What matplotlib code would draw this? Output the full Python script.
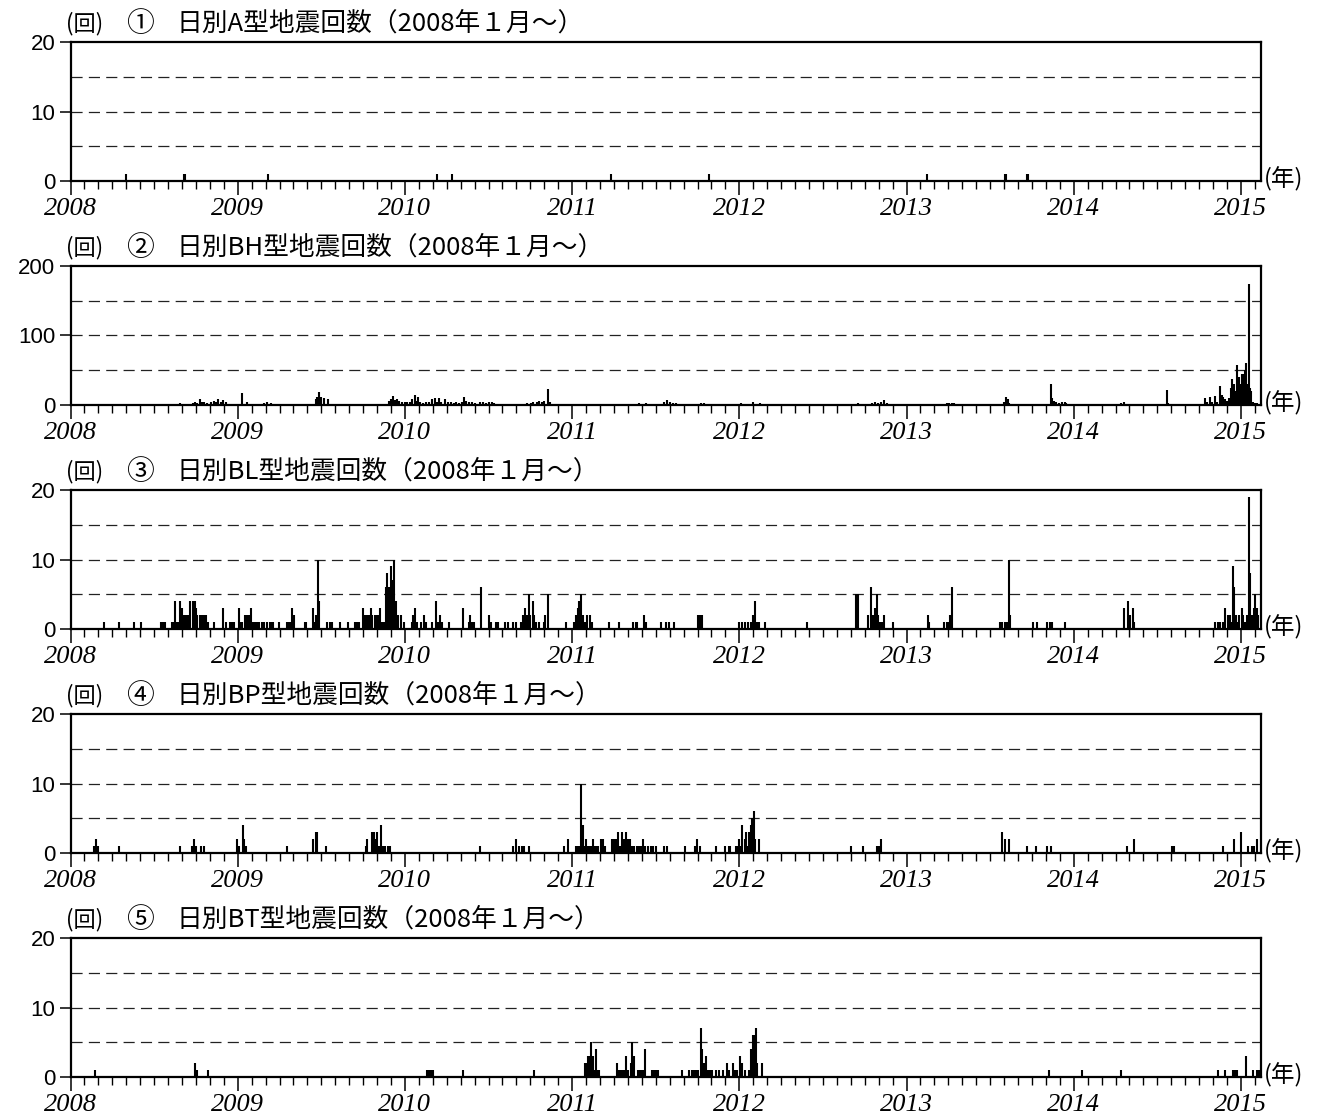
import matplotlib
matplotlib.use('Agg')
import matplotlib.pyplot as plt
import numpy as np

plt.rcParams['font.family'] = ['Noto Sans CJK JP', 'DejaVu Sans']
plt.rcParams['lines.scale_dashes'] = False

# ① A型 (日別回数)
a_year = [2008.33, 2008.678, 2008.684, 2009.18, 2010.19, 2010.28, 2011.23, 2011.82,
          2013.12, 2013.588, 2013.594, 2013.718, 2013.724]
a_count = [1, 1, 1, 1, 1, 1, 1, 1, 1, 1, 1, 1, 1]

# ② BH型
bh_year = [2008.657, 2008.720, 2008.731, 2008.743, 2008.755, 2008.773, 2008.787, 2008.801,
           2008.815, 2008.829, 2008.843, 2008.860, 2008.871, 2008.883, 2008.900, 2008.914,
           2008.930, 2009.028, 2009.054, 2009.157, 2009.175, 2009.199, 2009.264,
           2009.467, 2009.474, 2009.484, 2009.498, 2009.516, 2009.540,
           2009.904, 2009.914, 2009.928, 2009.939, 2009.951, 2009.965, 2009.981, 2009.998,
           2010.012, 2010.028, 2010.044, 2010.058, 2010.068, 2010.077, 2010.091, 2010.110,
           2010.128, 2010.145, 2010.161, 2010.180, 2010.194, 2010.203, 2010.217, 2010.238,
           2010.255, 2010.273, 2010.292, 2010.308, 2010.325, 2010.339, 2010.355, 2010.367,
           2010.386, 2010.402, 2010.418, 2010.449, 2010.465, 2010.484, 2010.500, 2010.519,
           2010.535, 2010.554, 2010.572,
           2010.701, 2010.729, 2010.752, 2010.769, 2010.787, 2010.804, 2010.822, 2010.834,
           2010.857, 2010.869, 2010.881,
           2011.044, 2011.058, 2011.367, 2011.400, 2011.418, 2011.442,
           2011.550, 2011.566, 2011.585, 2011.602, 2011.621, 2011.632,
           2011.751, 2011.770, 2011.787, 2011.798,
           2012.012, 2012.031, 2012.083, 2012.107, 2012.126,
           2012.711, 2012.771, 2012.794, 2012.813, 2012.830, 2012.847, 2012.866, 2012.885, 2012.925,
           2013.245, 2013.257, 2013.269, 2013.281,
           2013.584, 2013.594, 2013.605, 2013.615,
           2013.862, 2013.871, 2013.880, 2013.892, 2013.909, 2013.928, 2013.945, 2013.956,
           2014.284, 2014.300, 2014.556, 2014.566,
           2014.786, 2014.798, 2014.815, 2014.829, 2014.846, 2014.858, 2014.876, 2014.886,
           2014.895, 2014.905, 2014.917, 2014.929, 2014.938, 2014.948, 2014.957, 2014.967,
           2014.976, 2014.983, 2014.990, 2014.998, 2015.005, 2015.012, 2015.019, 2015.026,
           2015.033, 2015.040, 2015.047, 2015.054, 2015.062, 2015.071, 2015.083, 2015.095]
bh_count = [3, 2, 3, 4, 3, 8, 5, 5,
            3, 2, 4, 6, 4, 8, 5, 7,
            5, 17, 5, 3, 4, 3, 2,
            8, 12, 18, 12, 10, 8,
            6, 8, 13, 7, 8, 6, 5, 4,
            5, 4, 8, 14, 6, 12, 5, 3,
            4, 5, 8, 10, 4, 10, 5, 9,
            4, 5, 3, 4, 3, 5, 12, 6,
            4, 5, 3, 4, 5, 3, 5, 4,
            3, 2, 2,
            2, 3, 3, 4, 5, 6, 4, 6,
            23, 5, 2,
            2, 2, 2, 3, 2, 3,
            4, 7, 4, 3, 3, 2,
            2, 3, 3, 2,
            3, 2, 5, 2, 3,
            3, 2, 3, 4, 3, 5, 7, 3, 2,
            3, 3, 3, 3,
            5, 11, 8, 3,
            30, 10, 6, 4, 3, 4, 5, 3,
            3, 5, 21, 3,
            10, 4, 11, 5, 13, 4, 28, 15,
            12, 8, 6, 10, 25, 38, 30, 20,
            57, 35, 40, 30, 45, 45, 40, 50,
            60, 30, 174, 25, 20, 5, 3, 3]

# ③ BL型
bl_year = [2008.199, 2008.292, 2008.381, 2008.423, 2008.540, 2008.551, 2008.563, 2008.607,
           2008.619, 2008.626, 2008.638, 2008.645, 2008.654, 2008.666, 2008.680, 2008.689,
           2008.699, 2008.708, 2008.717, 2008.731, 2008.743, 2008.750, 2008.759, 2008.773,
           2008.785, 2008.797, 2008.813, 2008.820, 2008.860, 2008.914, 2008.930, 2008.956,
           2008.967, 2008.977, 2009.007, 2009.016, 2009.026, 2009.042, 2009.051, 2009.061,
           2009.070, 2009.082, 2009.089, 2009.105, 2009.117, 2009.129, 2009.145, 2009.159,
           2009.175, 2009.192, 2009.201, 2009.210, 2009.245, 2009.292, 2009.304, 2009.315,
           2009.327, 2009.334, 2009.402, 2009.411, 2009.451, 2009.460, 2009.470, 2009.479,
           2009.488, 2009.537, 2009.549, 2009.561, 2009.610, 2009.657, 2009.701, 2009.713,
           2009.727, 2009.750, 2009.759, 2009.771, 2009.783, 2009.799, 2009.806, 2009.822,
           2009.834, 2009.848, 2009.853, 2009.864, 2009.876, 2009.888, 2009.895, 2009.907,
           2009.916, 2009.923, 2009.930, 2009.937, 2009.946, 2009.951, 2009.960, 2009.977,
           2009.993, 2010.040, 2010.051, 2010.063, 2010.075, 2010.098, 2010.114, 2010.124,
           2010.161, 2010.185, 2010.199, 2010.208, 2010.222, 2010.266, 2010.348, 2010.383,
           2010.390, 2010.402, 2010.414, 2010.456, 2010.502, 2010.514, 2010.542, 2010.554,
           2010.600, 2010.617, 2010.647, 2010.666, 2010.694, 2010.706, 2010.717, 2010.729,
           2010.741, 2010.748, 2010.764, 2010.771, 2010.783, 2010.799, 2010.829, 2010.839,
           2010.853, 2010.963, 2011.009, 2011.021, 2011.033, 2011.044, 2011.051, 2011.063,
           2011.075, 2011.091, 2011.105, 2011.121, 2011.220, 2011.278, 2011.367, 2011.383,
           2011.390, 2011.430, 2011.442, 2011.530, 2011.561, 2011.582, 2011.609,
           2011.751, 2011.765, 2011.779, 2012.000, 2012.017, 2012.036, 2012.052, 2012.071,
           2012.083, 2012.095, 2012.107, 2012.119, 2012.154, 2012.403, 2012.700, 2012.711,
           2012.771, 2012.787, 2012.799, 2012.813, 2012.825, 2012.832, 2012.842, 2012.854,
           2012.866, 2012.918, 2013.126, 2013.136, 2013.226, 2013.240, 2013.252, 2013.262,
           2013.273, 2013.558, 2013.572, 2013.586, 2013.598, 2013.610, 2013.620, 2013.755,
           2013.779, 2013.838, 2013.857, 2013.873, 2013.945, 2014.300, 2014.324, 2014.336,
           2014.352, 2014.360, 2014.846, 2014.862, 2014.876, 2014.893, 2014.905, 2014.922,
           2014.933, 2014.945, 2014.952, 2014.959, 2014.971, 2014.981, 2014.990, 2015.005,
           2015.014, 2015.024, 2015.035, 2015.047, 2015.057, 2015.066, 2015.076, 2015.085,
           2015.095, 2015.104]
bl_count = [1, 1, 1, 1, 1, 1, 1, 1,
            1, 4, 1, 1, 4, 3, 2, 2,
            2, 2, 4, 4, 4, 3, 2, 2,
            2, 2, 2, 1, 1, 3, 1, 1,
            1, 1, 3, 1, 1, 2, 2, 2,
            2, 3, 1, 1, 1, 1, 1, 1,
            1, 1, 1, 1, 1, 1, 1, 1,
            3, 2, 1, 1, 3, 1, 2, 10,
            4, 1, 1, 1, 1, 1, 1, 1,
            1, 3, 2, 2, 2, 3, 2, 2,
            2, 2, 3, 1, 1, 6, 8, 6,
            9, 4, 7, 10, 4, 2, 2, 2,
            1, 1, 2, 3, 1, 1, 2, 1,
            1, 4, 1, 2, 1, 1, 3, 1,
            2, 1, 1, 6, 2, 1, 1, 1,
            1, 1, 1, 1, 1, 2, 3, 2,
            5, 2, 4, 2, 1, 1, 1, 2,
            5, 1, 1, 2, 3, 4, 5, 2,
            1, 2, 2, 1, 1, 1, 1, 1,
            1, 2, 1, 1, 1, 1, 1,
            2, 2, 2, 1, 1, 1, 1, 1,
            2, 4, 1, 1, 1, 1, 5, 5,
            2, 6, 2, 3, 5, 2, 1, 1,
            2, 1, 2, 1, 1, 1, 1, 2,
            6, 1, 1, 1, 1, 10, 2, 1,
            1, 1, 1, 1, 1, 3, 4, 2,
            3, 1, 1, 1, 1, 1, 3, 2,
            2, 1, 9, 6, 2, 1, 2, 3,
            2, 1, 2, 19, 8, 2, 3, 5,
            3, 2]

# ④ BP型
bp_year = [2008.143, 2008.154, 2008.166, 2008.292, 2008.657, 2008.727, 2008.741, 2008.750,
           2008.783, 2008.797, 2008.993, 2009.007, 2009.030, 2009.040, 2009.049, 2009.292,
           2009.451, 2009.467, 2009.474, 2009.526, 2009.766, 2009.776, 2009.801, 2009.813,
           2009.825, 2009.834, 2009.846, 2009.857, 2009.867, 2009.881, 2009.900, 2009.911,
           2010.449, 2010.647, 2010.666, 2010.682, 2010.699, 2010.710, 2010.745, 2010.951,
           2010.974, 2011.026, 2011.037, 2011.047, 2011.056, 2011.063, 2011.072, 2011.084,
           2011.096, 2011.105, 2011.114, 2011.126, 2011.138, 2011.147, 2011.157, 2011.173,
           2011.185, 2011.196, 2011.238, 2011.248, 2011.255, 2011.264, 2011.273, 2011.283,
           2011.292, 2011.301, 2011.313, 2011.322, 2011.336, 2011.348, 2011.360, 2011.371,
           2011.390, 2011.402, 2011.411, 2011.425, 2011.435, 2011.453, 2011.470, 2011.484,
           2011.500, 2011.550, 2011.570, 2011.673, 2011.734, 2011.749, 2011.763, 2011.858,
           2011.912, 2011.936, 2011.945, 2011.981, 2011.991, 2012.000, 2012.009, 2012.019,
           2012.031, 2012.040, 2012.050, 2012.059, 2012.071, 2012.078, 2012.088, 2012.095,
           2012.119, 2012.669, 2012.742, 2012.823, 2012.832, 2012.842, 2012.849, 2013.570,
           2013.589, 2013.613, 2013.719, 2013.774, 2013.843, 2013.862, 2014.319, 2014.360,
           2014.585, 2014.597, 2014.893, 2014.957, 2015.000, 2015.040, 2015.064, 2015.078,
           2015.099]
bp_count = [1, 2, 1, 1, 1, 1, 2, 1,
            1, 1, 2, 1, 4, 2, 1, 1,
            2, 3, 3, 1, 1, 2, 3, 3,
            2, 3, 1, 4, 1, 1, 1, 1,
            1, 1, 2, 1, 1, 1, 1, 1,
            2, 1, 1, 1, 10, 4, 1, 2,
            1, 1, 1, 2, 1, 1, 1, 2,
            2, 1, 2, 2, 2, 2, 3, 1,
            1, 3, 2, 3, 2, 2, 1, 1,
            1, 1, 1, 2, 1, 1, 1, 1,
            1, 1, 1, 1, 1, 2, 1, 1,
            1, 1, 1, 1, 1, 2, 1, 4,
            2, 3, 1, 3, 4, 5, 6, 2,
            2, 1, 1, 1, 1, 1, 2, 3,
            2, 2, 1, 1, 1, 1, 1, 2,
            1, 1, 1, 2, 3, 1, 1, 1,
            2]

# ⑤ BT型
bt_year = [2008.147, 2008.743, 2008.755, 2008.820, 2010.133, 2010.145, 2010.157, 2010.168,
           2010.350, 2010.771, 2011.075, 2011.084, 2011.096, 2011.105, 2011.114, 2011.124,
           2011.133, 2011.145, 2011.152, 2011.161, 2011.266, 2011.278, 2011.290, 2011.301,
           2011.313, 2011.325, 2011.336, 2011.353, 2011.360, 2011.371, 2011.395, 2011.407,
           2011.418, 2011.430, 2011.437, 2011.477, 2011.488, 2011.500, 2011.512, 2011.656,
           2011.699, 2011.715, 2011.727, 2011.739, 2011.751, 2011.768, 2011.775, 2011.787,
           2011.798, 2011.810, 2011.827, 2011.839, 2011.858, 2011.881, 2011.900, 2011.929,
           2011.941, 2011.960, 2011.976, 2011.988, 2012.005, 2012.017, 2012.031, 2012.055,
           2012.071, 2012.083, 2012.090, 2012.100, 2012.107, 2012.135, 2013.854, 2014.051,
           2014.281, 2014.865, 2014.905, 2014.952, 2014.964, 2014.976, 2015.033, 2015.071,
           2015.095, 2015.107]
bt_count = [1, 2, 1, 1, 1, 1, 1, 1,
            1, 1, 2, 2, 3, 3, 5, 3,
            1, 4, 1, 1, 2, 1, 1, 1,
            1, 3, 1, 2, 5, 3, 1, 1,
            1, 1, 4, 1, 1, 1, 1, 1,
            1, 1, 1, 1, 1, 7, 4, 2,
            3, 1, 1, 1, 1, 1, 1, 2,
            1, 2, 1, 1, 3, 2, 1, 1,
            4, 6, 6, 7, 2, 2, 1, 1,
            1, 1, 1, 1, 1, 1, 3, 1,
            1, 1]

panel_marks = ['①', '②', '③', '④', '⑤']
panel_titles = ['日別A型地震回数（2008年１月～）', '日別BH型地震回数（2008年１月～）',
                '日別BL型地震回数（2008年１月～）', '日別BP型地震回数（2008年１月～）',
                '日別BT型地震回数（2008年１月～）']
panel_ymax = [20, 200, 20, 20, 20]
year_ticks = [2008, 2009, 2010, 2011, 2012, 2013, 2014, 2015]

W, H = 1320, 1115
fig = plt.figure(figsize=(W / 100, H / 100), dpi=100)

series = [(a_year, a_count), (bh_year, bh_count), (bl_year, bl_count),
          (bp_year, bp_count), (bt_year, bt_count)]

for i, (yrs, cnt) in enumerate(series):
    top = 42 + 224 * i
    ax = fig.add_axes([70.5 / W, 1 - (top + 139) / H, 1190.5 / W, 139 / H])
    ymax = panel_ymax[i]

    # 破線の補助線
    for q in (0.25, 0.5, 0.75):
        ax.axhline(ymax * q, color='#222222', lw=0.9, ls=(0, (8, 4.5)), zorder=1)

    ax.vlines(yrs, 0, cnt, color='black', lw=1.5, zorder=2)

    ax.set_xlim(2008, 2015.12)
    ax.set_ylim(0, ymax)

    ax.set_yticks([0, ymax // 2, ymax])
    ax.set_yticklabels([str(v) for v in (0, ymax // 2, ymax)],
                       fontfamily='Liberation Sans', fontsize=16)
    ax.set_xticks(year_ticks)
    ax.set_xticklabels([str(y) for y in year_ticks], fontfamily='Liberation Serif',
                       fontstyle='italic', fontsize=19)
    months = [y + m / 12 for y in range(2008, 2016) for m in range(1, 12)]
    ax.set_xticks([m for m in months if m < 2015.12], minor=True)
    ax.tick_params(axis='x', which='major', direction='out', length=10, width=1.1, pad=2)
    ax.tick_params(axis='x', which='minor', direction='out', length=6, width=1.0)
    ax.tick_params(axis='y', which='major', direction='out', length=8, width=1.1, pad=3)

    for s in ax.spines.values():
        s.set_linewidth(1.6)

    yc = 1 - (top - 18) / H
    fig.text(85 / W, yc, '(回)', ha='center', va='center', fontsize=16)
    fig.text(140 / W, yc, panel_marks[i], ha='center', va='center', fontsize=20)
    fig.text(176 / W, yc, panel_titles[i], ha='left', va='center', fontsize=18.5)
    fig.text(1264 / W, 1 - (top + 137) / H, '(年)', ha='left', va='center', fontsize=17)

fig.savefig('out.png', dpi=100)
